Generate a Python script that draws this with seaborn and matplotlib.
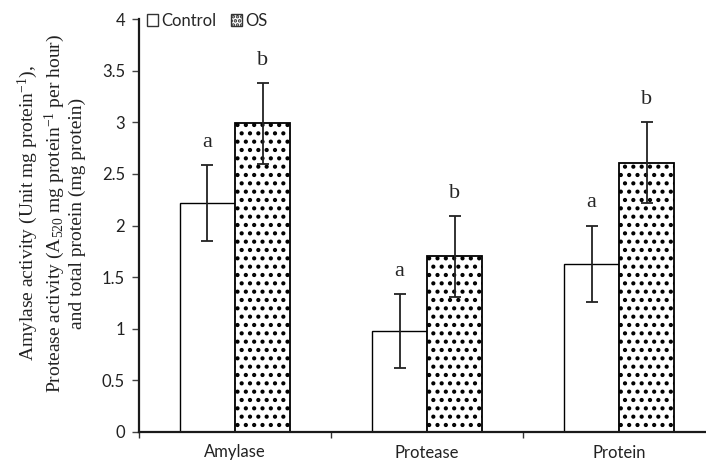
import matplotlib
matplotlib.use("Agg")
import matplotlib.pyplot as plt
import seaborn as sns
import pandas as pd
import numpy as np
from matplotlib.patches import Patch

# ---- data ----
categories = ["Amylase", "Protease", "Protein"]
groups = ["Control", "OS"]
control_mean = [2.22, 0.98, 1.63]
control_err = [0.37, 0.36, 0.37]
os_mean = [2.99, 1.70, 2.61]
os_err = [0.39, 0.39, 0.39]
control_letters = ["a", "a", "a"]
os_letters = ["b", "b", "b"]
y_ticks = [0, 0.5, 1, 1.5, 2, 2.5, 3, 3.5, 4]
y_tick_labels = ["0", "0.5", "1", "1.5", "2", "2.5", "3", "3.5", "4"]

df = pd.DataFrame({
    "Category": categories * 2,
    "Group": [groups[0]] * 3 + [groups[1]] * 3,
    "Value": control_mean + os_mean,
    "Err": control_err + os_err,
    "Letter": control_letters + os_letters,
})

sns.set_theme(style="white")
plt.rcParams["font.family"] = ["Lato", "DejaVu Sans"]
plt.rcParams["mathtext.fontset"] = "custom"
plt.rcParams["mathtext.rm"] = "Liberation Serif"
plt.rcParams["mathtext.it"] = "Liberation Serif:italic"
plt.rcParams["mathtext.bf"] = "Liberation Serif:bold"
plt.rcParams["hatch.linewidth"] = 1.8
plt.rcParams["hatch.color"] = "black"

fig = plt.figure(figsize=(7.06, 4.68), dpi=100)
ax = fig.add_axes([139 / 706, 36 / 468, 567 / 706, 413 / 468])

sns.barplot(data=df, x="Category", y="Value", hue="Group", order=categories,
            hue_order=groups, palette=["white", "white"], width=0.573,
            errorbar=None, edgecolor="black", linewidth=1.0, ax=ax, legend=False)

hatch = ".."
bars_by_group = {}
n = len(categories)
for i, p in enumerate(ax.patches[: 2 * n]):
    g = groups[i // n]
    bars_by_group.setdefault(g, []).append(p)
    if g == "OS":
        p.set_hatch(hatch)
        p.set_linewidth(1.3)

serif = ["Liberation Serif", "DejaVu Serif"]
for g, means, errs, letters in [("Control", control_mean, control_err, control_letters),
                                ("OS", os_mean, os_err, os_letters)]:
    xs = [p.get_x() + p.get_width() / 2 for p in bars_by_group[g]]
    ax.errorbar(xs, means, yerr=errs, fmt="none", ecolor="#222222",
                elinewidth=1.3, capsize=4, capthick=1.3, zorder=5)
    for x, m, e, t in zip(xs, means, errs, letters):
        ax.annotate(t, (x, m + e), xytext=(0, 13), textcoords="offset points",
                    ha="center", va="baseline", fontsize=16, family=serif)

ax.set_ylim(0, 4)
ax.set_xlim(-0.5, 2.453)
ax.set_yticks(y_ticks)
ax.set_yticklabels(y_tick_labels)
ax.set_xticks(range(n))
ax.set_xticklabels(categories)
ax.set_xticks([-0.5, 0.5, 1.5], minor=True)
ax.tick_params(axis="x", which="major", length=0, pad=9, labelsize=12, colors="#222222")
ax.tick_params(axis="x", which="minor", length=4.5, width=1.0, direction="out", color="#333333", bottom=True)
ax.tick_params(axis="y", which="major", length=5, width=1.0, direction="out", pad=5,
               labelsize=12, color="#444444", labelcolor="#222222", left=True)
ax.set_xlabel("")

for s in ["top", "right"]:
    ax.spines[s].set_visible(False)
for s in ["left", "bottom"]:
    ax.spines[s].set_color("#1a1a1a")
    ax.spines[s].set_linewidth(1.6)

ylab = ("Amylase activity (Unit mg protein$^{-1}$),\n"
        "Protease activity (A$_{520}$ mg protein$^{-1}$ per hour)\n"
        "and total protein (mg protein)")
ax.set_ylabel(ylab, family=serif, fontsize=14, va="center", ha="center",
              linespacing=1.15, color="#222222")
ax.yaxis.set_label_coords(-0.155, 0.53)

handles = [Patch(facecolor="white", edgecolor="#333333", linewidth=1.0),
           Patch(facecolor="white", edgecolor="#333333", linewidth=1.0, hatch="....")]
leg = ax.legend(handles, groups, loc="upper left", bbox_to_anchor=(0.014, 1.015),
                ncol=2, frameon=False, fontsize=12, handlelength=0.65, handleheight=0.65,
                handletextpad=0.2, columnspacing=0.9, borderaxespad=0.0, borderpad=0.0)

fig.savefig("out.png", dpi=100)
